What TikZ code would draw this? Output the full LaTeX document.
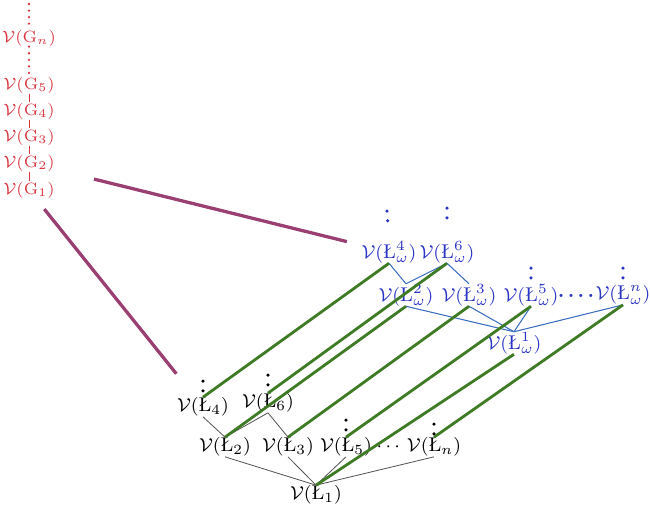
\documentclass[tikz,border=0pt]{standalone}
\usepackage{amsmath,amssymb}
\usepackage{tikz}
\usetikzlibrary{calc}
\usepackage{xcolor}
\definecolor{TowRed}{HTML}{D93640}
\definecolor{TowPurple}{HTML}{9A3F72}
\definecolor{TowBlue}{HTML}{2B35C4}
\definecolor{TowBlueLine}{HTML}{3B6DBF}
\definecolor{TowGreen}{HTML}{3E7B24}
\definecolor{TowGray}{HTML}{555555}
\newcommand{\vG}[1]{\mathcal{V}(\mathrm{G}_{#1})}
\newcommand{\vL}[1]{\mathcal{V}(\mbox{\L}_{#1})}
\newcommand{\vLw}[1]{\mathcal{V}(\mbox{\L}^{#1}_{\omega})}

\begin{document}
\begin{tikzpicture}[
  x=0.015cm,y=-0.015cm,
  gnode/.style={inner sep=0pt,font=\scriptsize,text=TowRed},
  knode/.style={inner sep=0pt,font=\fontsize{8.5}{10}\selectfont,text=black},
  wnode/.style={knode,text=TowBlue},
  glink/.style={draw=TowRed,line width=0.4pt},
  klink/.style={draw=TowGray,line width=0.35pt},
  wlink/.style={draw=TowBlueLine,line width=0.45pt},
  match/.style={draw=TowGreen,line width=1.2pt},
  cross/.style={draw=TowPurple,line width=1.4pt},
  gdots/.style={draw=TowRed,line width=1.1pt,line cap=round,
    dash pattern=on 0pt off 2.8pt},
  kdots/.style={draw=black,line width=1.5pt,line cap=round,
    dash pattern=on 0pt off 4.2pt},
  wdots/.style={kdots,draw=TowBlue}
]
\useasboundingbox (0,0) rectangle (650,507);

% Tower of groups on the left; two copies of the lattice of levels on the right,
% the green segments matching each level to its omega-version.
\node[gnode] (gn) at (29,38) {$\vG{n}$};
\node[gnode] (g5) at (29,85) {$\vG{5}$};
\node[gnode] (g4) at (29,111) {$\vG{4}$};
\node[gnode] (g3) at (29,137) {$\vG{3}$};
\node[gnode] (g2) at (29,163) {$\vG{2}$};
\node[gnode] (g1) at (29,190) {$\vG{1}$};
\coordinate (gtop) at (29,4);

\draw[gdots] (gtop) -- (gn.north);
\draw[gdots] (gn.south) -- (g5.north);
\draw[glink] (g5.south) -- (g4.north);
\draw[glink] (g4.south) -- (g3.north);
\draw[glink] (g3.south) -- (g2.north);
\draw[glink] (g2.south) -- (g1.north);

% lower lattice
\node[knode] (l4) at (203,407) {$\vL{4}$};
\node[knode] (l6) at (268,403) {$\vL{6}$};
\node[knode] (l2) at (225,447) {$\vL{2}$};
\node[knode] (l3) at (288,447) {$\vL{3}$};
\node[knode] (l5) at (346,447) {$\vL{5}$};
\node[knode] (kdots) at (390,447) {$\cdots$};
\node[knode] (ln) at (434,447) {$\vL{n}$};
\node[knode] (l1) at (316,495) {$\vL{1}$};

% upper lattice
\node[wnode] (l4w) at (389,252) {$\vLw{4}$};
\node[wnode] (l6w) at (447,252) {$\vLw{6}$};
\node[wnode] (l2w) at (406,295) {$\vLw{2}$};
\node[wnode] (l3w) at (469,295) {$\vLw{3}$};
\node[wnode] (l5w) at (531,295) {$\vLw{5}$};
\node[wnode] (wdotsrow) at (576,296) {\textbf{.\,.\,.\,.}};
\node[wnode] (lnw) at (623,295) {$\vLw{n}$};
\node[wnode] (l1w) at (514,343) {$\vLw{1}$};

\coordinate (l4up) at (203,381);
\coordinate (l6up) at (268,375);
\coordinate (l5up) at (346,420);
\coordinate (lnup) at (434,424);
\coordinate (l4wup) at (387,211);
\coordinate (l6wup) at (447,208);
\coordinate (l5wup) at (531,268);
\coordinate (lnwup) at (623,268);

\draw[kdots] (l4up) -- (l4.north);
\draw[kdots] (l6up) -- (l6.north);
\draw[kdots] (l5up) -- (l5.north);
\draw[kdots] (lnup) -- (ln.north);
\draw[wdots,shorten >=0.21cm] (l4wup) -- (l4w.north);
\draw[wdots,shorten >=0.21cm] (l6wup) -- (l6w.north);
\draw[wdots] (l5wup) -- (l5w.north);
\draw[wdots] (lnwup) -- (lnw.north);

\draw[klink] (l4.south) -- (l2.north);
\draw[klink] (l6.south) -- (l2.north);
\draw[klink] (l6.south) -- (l3.north);
\draw[klink] (l2.south) -- (l1.north);
\draw[klink] (l3.south) -- (l1.north);
\draw[klink] (l5.south) -- (l1.north);
\draw[klink] (ln.south) -- (l1.north);

\draw[wlink] (l4w.south) -- (l2w.north);
\draw[wlink] (l6w.south) -- (l2w.north);
\draw[wlink] (l6w.south) -- (l3w.north);
\draw[wlink] (l2w.south) -- (l1w.north);
\draw[wlink] (l3w.south) -- (l1w.north);
\draw[wlink] (l5w.south) -- (l1w.north);
\draw[wlink] (lnw.south) -- (l1w.north);

\draw[match] (l4.north) -- (l4w.south);
\draw[match] (l6.north) -- (l6w.south);
\draw[match] (l2.north) -- (l2w.south);
\draw[match] (l3.north) -- (l3w.south);
\draw[match] (l5.north) -- (l5w.south);
\draw[match] (ln.north) -- (lnw.south);
\draw[match] (l1.north) -- (l1w.south);

\draw[cross,shorten <=0.6cm,shorten >=0.22cm] (g2) -- (l4w);
\draw[cross,shorten <=0.2cm,shorten >=0.45cm] (g1) -- (l4);

\end{tikzpicture}
\end{document}
